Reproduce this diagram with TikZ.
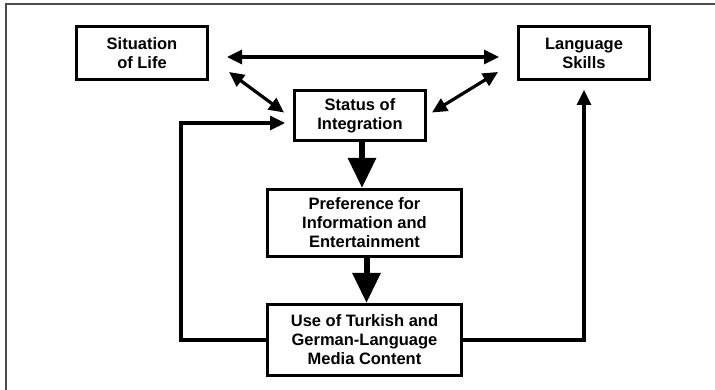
\documentclass[tikz,border=0pt]{standalone}
\usepackage{fontspec}
\setmainfont{Liberation Sans}
\usetikzlibrary{arrows.meta}

\tikzset{
  box/.style={draw, line width=3pt, align=center, inner sep=2pt,
              font=\bfseries\fontsize{16.5}{19}\selectfont},
  arr/.style={line width=3.2pt, -{Triangle[length=15pt,width=14pt]}},
  dblarr/.style={line width=3.2pt, {Triangle[length=15pt,width=14pt]}-{Triangle[length=15pt,width=14pt]}},
  bigarr/.style={line width=6pt, -{Triangle[length=30pt,width=27pt]}},
}

\begin{document}
\begin{tikzpicture}[x=1pt, y=1pt]
\useasboundingbox (0,0) rectangle (715,390);
\draw[gray!60!black, line width=1.3pt] (715,386) -- (6,386) -- (6,0);

\node[box, minimum width=131, minimum height=53] (life) at (142,337) {Situation\\of Life};
\node[box, minimum width=131, minimum height=53] (skills) at (584,337) {Language\\Skills};
\node[box, minimum width=131, minimum height=50] (status) at (360,274.5) {Status of\\Integration};
\node[box, minimum width=194, minimum height=67] (pref) at (364.5,167) {Preference for\\Information and\\Entertainment};
\node[box, minimum width=194, minimum height=71] (use) at (364.5,50) {Use of Turkish and\\German-Language\\Media Content};

\draw[dblarr, shorten <=18pt, shorten >=18pt] ([yshift=-4pt]life.east) -- ([yshift=-4pt]skills.west);
\draw[dblarr] ([shift={(20,9)}]life.south east) -- ([shift={(-9,3)}]status.west);
\draw[dblarr] ([shift={(5,3)}]status.east) -- ([shift={(-19,9)}]skills.south west);

\draw[bigarr] ([xshift=2pt]status.south) -- ([xshift=-2.5pt]pref.north);
\draw[bigarr] ([xshift=2pt]pref.south) -- ([xshift=2pt]use.north);

% feedback loops
\draw[arr] (use.west) -- ++(-85,0) |- ([xshift=-8pt,yshift=-7.5pt]status.west);
\draw[arr] (use.east) -| ([yshift=-9pt]skills.south);
\end{tikzpicture}
\end{document}
